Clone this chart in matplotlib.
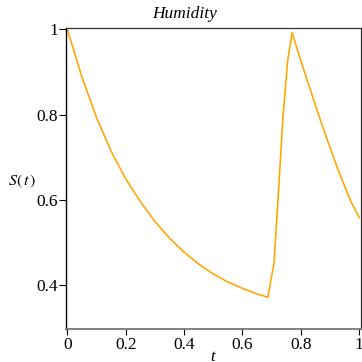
import matplotlib
matplotlib.use("Agg")
import matplotlib.pyplot as plt

# values
t_vals = [0.0, 0.05, 0.10, 0.15, 0.20, 0.25, 0.30, 0.35, 0.40, 0.45, 0.50,
          0.55, 0.60, 0.65, 0.687, 0.708, 0.721, 0.738, 0.755, 0.770,
          0.800, 0.835, 0.858, 0.881, 0.904, 0.926, 0.949, 0.972, 1.0]
s_vals = [1.0, 0.888, 0.793, 0.714, 0.649, 0.596, 0.549, 0.510, 0.477, 0.449, 0.426,
          0.407, 0.392, 0.379, 0.371, 0.452, 0.591, 0.787, 0.927, 0.992,
          0.926, 0.853, 0.805, 0.759, 0.715, 0.673, 0.633, 0.595, 0.558]
x_ticks = [0, 0.2, 0.4, 0.6, 0.8, 1]
x_tick_labels = ["0", "0.2", "0.4", "0.6", "0.8", "1"]
y_ticks = [0.4, 0.6, 0.8, 1]
y_tick_labels = ["0.4", "0.6", "0.8", "1"]

plt.rcParams['font.family'] = ['Liberation Serif', 'DejaVu Serif']

W = 362
fig = plt.figure(figsize=(3.62, 3.62), dpi=100)
ax = fig.add_axes([65.7 / W, (W - 329.3) / W, (360.7 - 65.7) / W, (329.3 - 28.3) / W])

ax.plot(t_vals, s_vals, color='#FFA500', lw=1.15)
ax.set_xlim(-0.0055, 1.005)
ax.set_ylim(0.296, 1.0023)

ax.set_xticks(x_ticks)
ax.set_xticklabels(x_tick_labels)
ax.set_yticks(y_ticks)
ax.set_yticklabels(y_tick_labels)
ax.tick_params(axis='both', labelsize=12.5, length=4, width=0.8, color='black', pad=1.5)
ax.tick_params(axis='y', length=5, pad=0.5)

ax.spines['left'].set_color('black')
ax.spines['left'].set_linewidth(1.0)
ax.spines['bottom'].set_color('#777777')
ax.spines['bottom'].set_linewidth(1.3)
ax.spines['top'].set_color('#333333')
ax.spines['top'].set_linewidth(0.9)
ax.spines['right'].set_color('#333333')
ax.spines['right'].set_linewidth(0.9)

fig.text(185 / W, 1 - 14 / W, 'Humidity', ha='center', va='center',
         fontsize=12.5, style='italic')
fig.text(213 / W, 1 - 357 / W, 't', ha='center', va='center',
         fontsize=12, style='italic')
fig.text(22 / W, 1 - 181 / W, r'$S(\,t\,)$', ha='center', va='center',
         fontsize=11.5, math_fontfamily='stix')

fig.savefig('out.png', dpi=100)
